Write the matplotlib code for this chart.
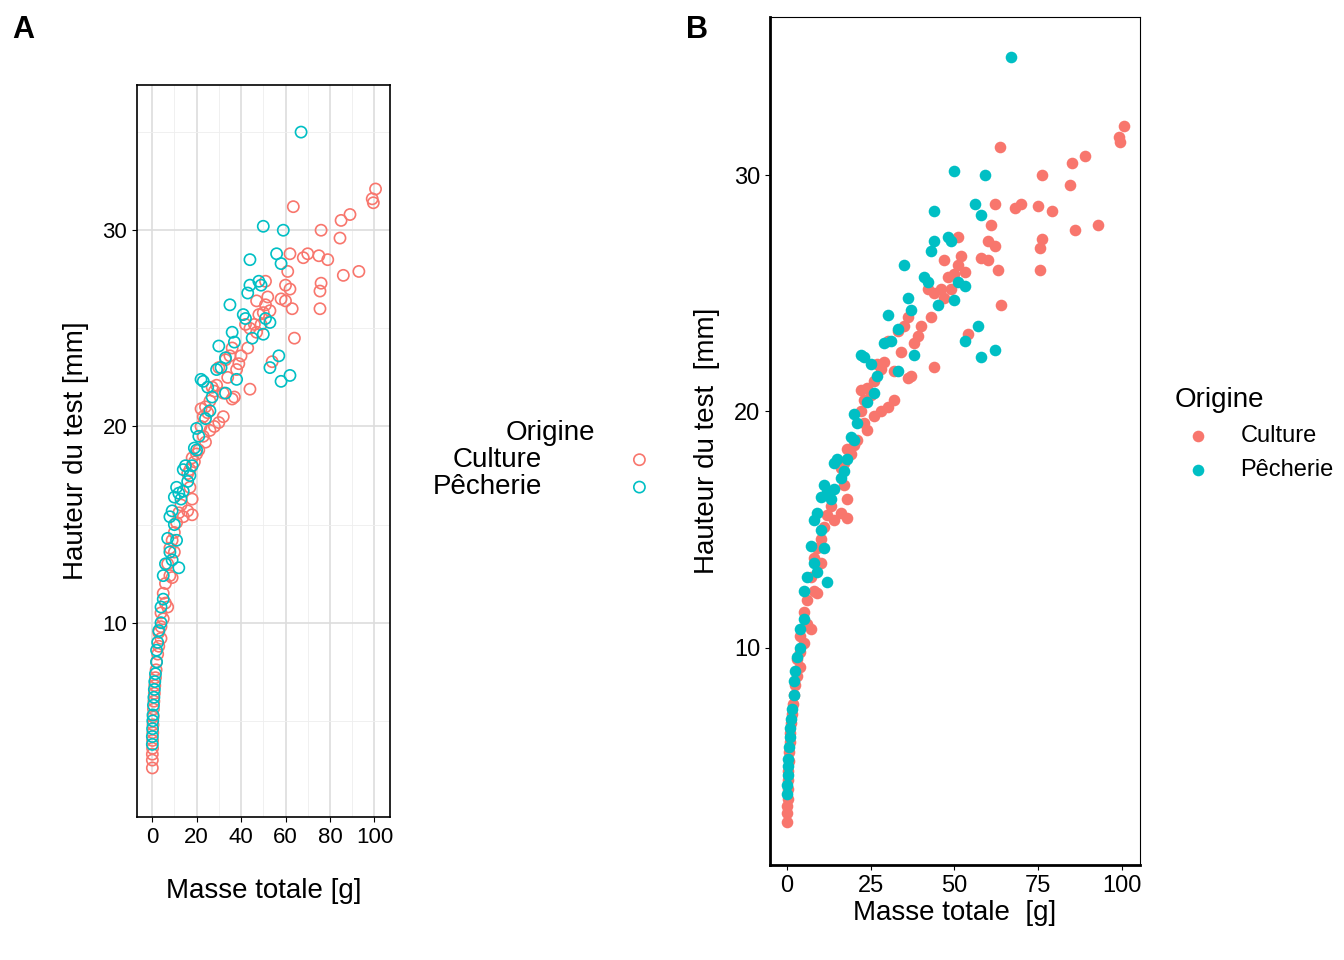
import matplotlib.pyplot as plt
from matplotlib.ticker import MultipleLocator

plt.rcParams['font.family'] = ['Liberation Sans', 'DejaVu Sans']

# Culture (masse g, hauteur mm)
cult_mass = [100.5, 99, 99.5, 89, 85, 84.5, 76, 93, 86, 76, 75.5, 75.5, 79, 75, 70, 68, 63.5, 62, 61, 60,
             62, 63, 64, 60, 58, 54, 51, 52, 51, 53, 50, 48, 47, 46, 44, 43, 42, 40, 39, 38,
             36, 35, 34, 36, 44, 32, 33, 30, 29, 28, 27, 26, 25, 24, 23, 22, 22, 23, 24, 21,
             20, 19, 18, 17, 16, 17, 18, 16, 18, 14, 13, 12, 11, 10, 9, 8, 10, 7, 8, 9,
             6, 5, 6, 7, 4, 5, 4, 3, 4, 3, 2.5, 2, 1.8, 1.5, 1.2, 1, 0.8, 0.6, 0.5, 0.4,
             0.3, 0.2, 0.2, 0.1, 0.1, 0.1, 30, 32, 28, 26, 37, 47, 49]
cult_haut = [32.1, 31.6, 31.4, 30.8, 30.5, 29.6, 30.0, 27.9, 27.7, 27.3, 26.9, 26.0, 28.5, 28.7, 28.8, 28.6, 31.2, 28.8, 27.9, 27.2,
             27.0, 26.0, 24.5, 26.4, 26.5, 23.3, 27.4, 26.6, 26.2, 25.9, 25.8, 25.7, 26.4, 25.2, 25.0, 24.0, 25.2, 23.6, 23.2, 22.9,
             24.0, 23.6, 22.5, 21.4, 21.9, 21.7, 23.4, 23.0, 22.1, 21.8, 22.0, 21.3, 20.7, 21.0, 20.5, 20.9, 20.0, 19.5, 19.2, 18.8,
             18.6, 18.2, 18.4, 17.8, 17.6, 16.9, 16.3, 15.7, 15.5, 15.4, 16.0, 15.6, 15.1, 14.6, 14.2, 13.8, 13.6, 13.0, 12.4, 12.3,
             12.0, 11.5, 11.0, 10.8, 10.5, 10.2, 9.8, 9.5, 9.2, 8.8, 8.4, 8.0, 7.6, 7.2, 6.8, 6.4, 6.0, 5.6, 5.2, 4.8,
             4.4, 4.0, 3.6, 3.3, 3.0, 2.6, 20.2, 20.5, 20.0, 19.8, 21.5, 24.8, 25.2]

# Pêcherie
pech_mass = [67, 50, 59, 56, 58, 44, 49, 48, 41, 42, 51, 53, 50, 45, 62, 58, 57, 53, 44, 43,
             35, 36, 37, 30, 33, 31, 29, 38, 33, 22, 23, 25, 27, 26, 24, 20, 21, 20, 18, 17,
             16, 14, 13, 12, 11, 14, 10, 9, 8, 10, 12, 9, 7, 6, 5, 5, 4, 4, 3, 2.5,
             2, 2, 1.5, 1.2, 1, 0.8, 0.6, 0.4, 0.3, 0.2, 0.1, 0.1, 15, 19, 11, 8]
pech_haut = [35.0, 30.2, 30.0, 28.8, 28.3, 28.5, 27.2, 27.4, 25.7, 25.5, 25.5, 25.3, 24.7, 24.5, 22.6, 22.3, 23.6, 23.0, 27.2, 26.8,
             26.2, 24.8, 24.3, 24.1, 23.5, 23.0, 22.9, 22.4, 21.7, 22.4, 22.3, 22.0, 21.5, 20.8, 20.4, 19.9, 19.5, 18.8, 18.0, 17.5,
             17.2, 16.7, 16.3, 16.6, 16.9, 17.8, 16.4, 15.7, 15.4, 15.0, 12.8, 13.2, 14.3, 13.0, 12.4, 11.2, 10.8, 10.0, 9.6, 9.0,
             8.6, 8.0, 7.4, 7.0, 6.6, 6.2, 5.8, 5.3, 5.0, 4.6, 4.2, 3.8, 18.0, 18.9, 14.2, 13.6]

RED, TEAL = '#F8766D', '#00BFC4'

fig = plt.figure(figsize=(13.44, 9.6), dpi=100)

# Panel A: open circles, light grid
axA = fig.add_axes([137/1344, 143/960, 253/1344, 732/960])
axA.scatter(cult_mass, cult_haut, s=65, facecolors='none', edgecolors=RED, linewidths=1.2, label='Culture')
axA.scatter(pech_mass, pech_haut, s=65, facecolors='none', edgecolors=TEAL, linewidths=1.2, label='Pêcherie')
axA.set_xlim(-6.8, 107)
axA.set_ylim(0.1, 37.4)
axA.xaxis.set_major_locator(MultipleLocator(20))
axA.xaxis.set_minor_locator(MultipleLocator(10))
axA.yaxis.set_major_locator(MultipleLocator(10))
axA.yaxis.set_minor_locator(MultipleLocator(5))
axA.grid(which='major', color='#dddddd', lw=1.2)
axA.grid(which='minor', color='#eeeeee', lw=0.6)
axA.set_axisbelow(True)
axA.tick_params(which='minor', length=0)
axA.tick_params(labelsize=16, colors='black')
axA.set_xlabel('Masse totale [g]', fontsize=20, labelpad=22)
axA.set_ylabel('Hauteur du test [mm]', fontsize=20, labelpad=10)
for s in axA.spines.values():
    s.set_linewidth(1.2)
hA, lA = axA.get_legend_handles_labels()
legA = fig.legend(hA, lA, title='Origine', loc='center', bbox_to_anchor=(550/1344, 1 - 460/960),
                  markerfirst=False, frameon=False, fontsize=20, title_fontsize=20,
                  handletextpad=2.5, labelspacing=0.05, borderaxespad=0)
for t in legA.get_texts():
    t.set_ha('left')

# Panel B: filled points, classic theme
axB = fig.add_axes([770/1344, 95/960, 370/1344, 848/960])
axB.scatter(cult_mass, cult_haut, s=70, color=RED, label='Culture', lw=0)
axB.scatter(pech_mass, pech_haut, s=70, color=TEAL, label='Pêcherie', lw=0)
axB.set_xlim(-5.1, 105.4)
axB.set_ylim(0.8, 36.7)
axB.xaxis.set_major_locator(MultipleLocator(25))
axB.yaxis.set_major_locator(MultipleLocator(10))
axB.tick_params(labelsize=17, colors='black')
axB.set_xlabel('Masse totale  [g]', fontsize=20, labelpad=2)
axB.set_ylabel('Hauteur du test  [mm]', fontsize=20, labelpad=10)
axB.spines['left'].set_linewidth(2)
axB.spines['bottom'].set_linewidth(2)
hB, lB = axB.get_legend_handles_labels()
fig.legend(hB, lB, title='Origine', loc='upper left', bbox_to_anchor=(1165/1344, 1 - 378/960),
           frameon=False, fontsize=17, title_fontsize=20, alignment='left',
           handletextpad=0.8, labelspacing=0.5, borderaxespad=0)

fig.text(12/1344, 1 - 30/960, 'A', fontsize=22, fontweight='bold', va='center')
fig.text(686/1344, 1 - 30/960, 'B', fontsize=22, fontweight='bold', va='center')

fig.savefig('out.png', dpi=100)
